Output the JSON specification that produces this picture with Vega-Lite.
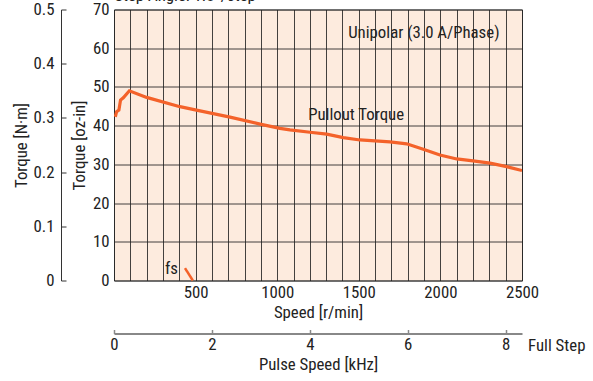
{
  "$schema": "https://vega.github.io/schema/vega-lite/v6.json",
  "width": 408,
  "height": 271,
  "autosize": "none",
  "padding": {"left": 114, "top": 9.5, "right": 71, "bottom": 100.5},
  "config": {
    "font": "Roboto Condensed, DejaVu Sans Condensed, Roboto, sans-serif",
    "view": {"fill": "#FDEBDE", "stroke": "#555", "strokeWidth": 1},
    "axis": {"labelFont": "Roboto Condensed, DejaVu Sans Condensed, Roboto, sans-serif", "titleFont": "Roboto Condensed, DejaVu Sans Condensed, Roboto, sans-serif", "labelFontSize": 16.8, "titleFontSize": 16.8, "titleFontWeight": "normal", "labelColor": "#222", "titleColor": "#222"},
    "text": {"font": "Roboto Condensed, DejaVu Sans Condensed, Roboto, sans-serif", "fontSize": 16.8, "color": "#222"}
  },
  "datasets": {
    "curve": [
      {"speed": 8, "torque": 42.3},
      {"speed": 16, "torque": 43.6},
      {"speed": 30, "torque": 44.0},
      {"speed": 40, "torque": 46.6},
      {"speed": 57, "torque": 47.2},
      {"speed": 94, "torque": 49.0},
      {"speed": 200, "torque": 47.3},
      {"speed": 404, "torque": 44.9},
      {"speed": 527, "torque": 43.8},
      {"speed": 711, "torque": 42.2},
      {"speed": 895, "torque": 40.4},
      {"speed": 1017, "torque": 39.3},
      {"speed": 1078, "torque": 38.9},
      {"speed": 1201, "torque": 38.3},
      {"speed": 1303, "torque": 37.8},
      {"speed": 1405, "torque": 36.9},
      {"speed": 1507, "torque": 36.3},
      {"speed": 1691, "torque": 35.8},
      {"speed": 1793, "torque": 35.3},
      {"speed": 1895, "torque": 33.9},
      {"speed": 1997, "torque": 32.4},
      {"speed": 2100, "torque": 31.4},
      {"speed": 2200, "torque": 30.9},
      {"speed": 2304, "torque": 30.3},
      {"speed": 2406, "torque": 29.4},
      {"speed": 2500, "torque": 28.4}
    ],
    "fs": [
      {"speed": 435, "torque": 3.2},
      {"speed": 483, "torque": 0}
    ],
    "labels": [
      {"speed": 1435, "torque": 63.9, "text": "Unipolar (3.0 A/Phase)"},
      {"speed": 1190, "torque": 42.8, "text": "Pullout Torque"},
      {"speed": 312, "torque": 2.9, "text": "fs"},
      {"speed": 2537, "torque": -16.8, "text": "Full Step"},
      {"speed": 2, "torque": 73.4, "text": "Step Angle: 1.8°/step"}
    ],
    "nm": [{"nm": 0}, {"nm": 0.5}],
    "pulse": [{"khz": 0}, {"khz": 8.3333}]
  },
  "layer": [
    {
      "encoding": {
        "x": {
          "field": "speed", "type": "quantitative",
          "scale": {"domain": [0, 2500], "nice": false, "zero": false},
          "axis": {
            "title": "Speed [r/min]",
            "values": [0,100,200,300,400,500,600,700,800,900,1000,1100,1200,1300,1400,1500,1600,1700,1800,1900,2000,2100,2200,2300,2400,2500],
            "format": "d",
            "labelExpr": "datum.value % 500 == 0 && datum.value > 0 ? datum.label : ''",
            "labelFlush": false, "labelOverlap": false,
            "ticks": false, "domain": false,
            "grid": true, "gridColor": "#222", "gridOpacity": 0.85, "gridWidth": 1,
            "labelPadding": 4, "titlePadding": 3
          }
        },
        "y": {
          "field": "torque", "type": "quantitative",
          "scale": {"domain": [0, 70], "nice": false},
          "axis": {
            "title": "Torque [oz-in]",
            "values": [0,10,20,30,40,50,60,70],
            "ticks": false, "domain": false,
            "grid": true, "gridColor": "#222", "gridOpacity": 0.85, "gridWidth": 1,
            "labelPadding": 5, "titlePadding": 4
          }
        }
      },
      "layer": [
        {"data": {"name": "curve"}, "mark": {"type": "line", "color": "#F4622A", "strokeWidth": 3.2, "clip": true}},
        {"data": {"name": "fs"}, "mark": {"type": "line", "color": "#F4622A", "strokeWidth": 2.5}},
        {"data": {"name": "labels"}, "mark": {"type": "text", "align": "left", "baseline": "middle"}, "encoding": {"text": {"field": "text"}}}
      ]
    },
    {
      "data": {"name": "nm"},
      "mark": {"type": "point", "opacity": 0},
      "encoding": {
        "y": {
          "field": "nm", "type": "quantitative",
          "scale": {"domain": [0, 0.5], "nice": false},
          "axis": {
            "orient": "left", "offset": 53,
            "title": "Torque [N·m]",
            "values": [0, 0.1, 0.2, 0.3, 0.4, 0.5],
            "format": "~g",
            "grid": false,
            "domain": true, "domainColor": "#333", "domainWidth": 1,
            "ticks": false,
            "labelPadding": 7, "titlePadding": 3
          }
        }
      }
    },
    {
      "data": {"name": "nm"},
      "mark": {"type": "point", "opacity": 0},
      "encoding": {
        "y": {
          "field": "nm", "type": "quantitative",
          "scale": {"domain": [0, 0.5], "nice": false},
          "axis": {
            "orient": "right", "offset": -461,
            "title": null, "labels": false, "domain": false, "grid": false,
            "values": [0, 0.1, 0.2, 0.3, 0.4, 0.5],
            "ticks": true, "tickColor": "#333", "tickSize": 5, "tickWidth": 1
          }
        }
      }
    },
    {
      "data": {"name": "pulse"},
      "mark": {"type": "point", "opacity": 0},
      "encoding": {
        "x": {
          "field": "khz", "type": "quantitative",
          "scale": {"domain": [0, 8.3333], "nice": false, "zero": false},
          "axis": {
            "orient": "bottom", "offset": 53,
            "title": "Pulse Speed [kHz]",
            "values": [0, 2, 4, 6, 8],
            "format": "d",
            "grid": false,
            "labelFlush": false, "labelOverlap": false,
            "domain": true, "domainColor": "#888", "domainWidth": 2,
            "ticks": false,
            "labelPadding": 3, "titlePadding": 3
          }
        }
      }
    },
    {
      "data": {"name": "pulse"},
      "mark": {"type": "point", "opacity": 0},
      "encoding": {
        "x": {
          "field": "khz", "type": "quantitative",
          "scale": {"domain": [0, 8.3333], "nice": false, "zero": false},
          "axis": {
            "orient": "top", "offset": -324,
            "title": null, "labels": false, "domain": false, "grid": false,
            "values": [0, 2, 4, 6, 8],
            "ticks": true, "tickColor": "#888", "tickSize": 4, "tickWidth": 1.5
          }
        }
      }
    }
  ],
  "resolve": {"scale": {"x": "independent", "y": "independent"}}
}
